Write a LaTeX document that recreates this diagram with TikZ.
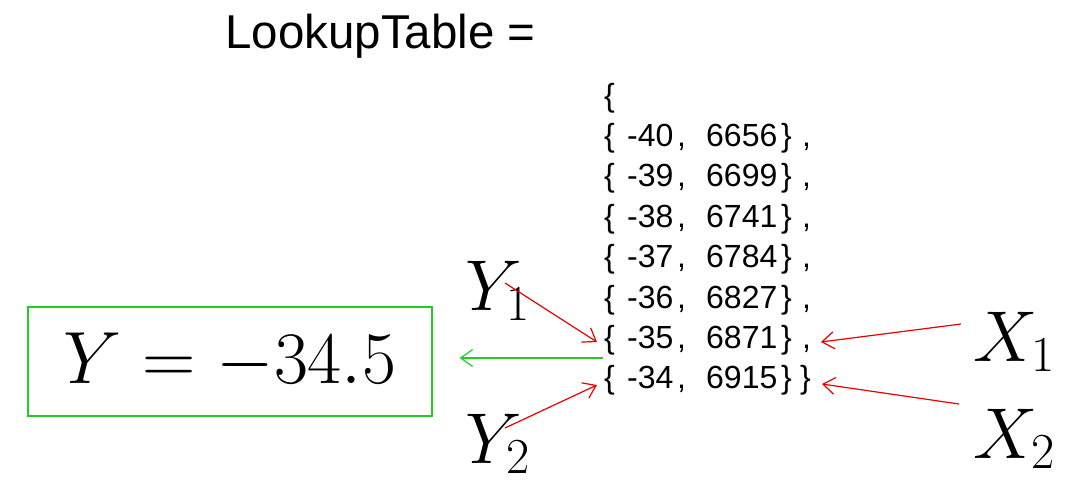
\RequirePackage{fix-cm}
\documentclass[tikz,border=0pt]{standalone}
\usepackage[no-math]{fontspec}
\newfontfamily\arial{Liberation Sans}
\usetikzlibrary{arrows.meta}
\definecolor{myred}{RGB}{230,0,0}
\definecolor{mygreen}{RGB}{34,204,34}
\tikzset{
  tbl/.style={font=\arial\fontsize{32}{32}\selectfont, inner sep=0pt, anchor=base west},
  titletext/.style={font=\arial\fontsize{47.5}{48}\selectfont, inner sep=0pt, anchor=base west},
  mathlbl/.style={font=\fontsize{72}{76}\selectfont, inner sep=0pt, anchor=base west},
  resultbox/.style={draw=mygreen, line width=1.3pt, minimum width=404pt, minimum height=109pt, inner sep=0pt, font=\fontsize{74}{78}\selectfont},
  redarrow/.style={draw=myred, line width=1.2pt, -{Straight Barb[length=12pt,width=17pt,line width=1.2pt]}},
  greenarrow/.style={draw=mygreen, line width=1.2pt, -{Straight Barb[length=12pt,width=17pt,line width=1.2pt]}}
}
\newcommand\tabrow[5]{%
  \node[tbl] (#1b) at (604,#2) {\{};
  \node[tbl] (#1a) at (627,#2) {#3};
  \node[tbl] (#1c) at (677,#2) {,};
  \node[tbl] (#1d) at (706,#2) {#4};
  \node[tbl] (#1e) at (781,#2) {\}};
  \node[tbl] (#1f) at (#5,#2) {\ifnum#5>801 ,\else\}\fi};
}
\begin{document}
\begin{tikzpicture}[x=1pt,y=-1pt]
\useasboundingbox (0,0) rectangle (1066,483);
\node[titletext] (title) at (225,48) {LookupTable =};
\node[tbl] (open) at (604,106) {\{};
\tabrow{r1}{146}{-40}{6656}{802}
\tabrow{r2}{186.5}{-39}{6699}{802}
\tabrow{r3}{227}{-38}{6741}{802}
\tabrow{r4}{267}{-37}{6784}{802}
\tabrow{r5}{308}{-36}{6827}{802}
\tabrow{r6}{348}{-35}{6871}{802}
\tabrow{r7}{388}{-34}{6915}{800}
\node[resultbox] (box) at (230,361.5) {$Y=-34.5$};
\node[mathlbl] (y1) at (465,310) {$Y_1$};
\node[mathlbl] (y2) at (465,463) {$Y_2$};
\node[mathlbl] (x1) at (973,361) {$X_1$};
\node[mathlbl] (x2) at (973,458) {$X_2$};
\coordinate (y1s) at (505,283);
\coordinate (y1t) at (597,342);
\coordinate (y2s) at (505,428);
\coordinate (y2t) at (597,385);
\coordinate (x1s) at (961,324);
\coordinate (x1t) at (821,342);
\coordinate (x2s) at (959,404);
\coordinate (x2t) at (822,384);
\coordinate (gs) at (603,358);
\draw[redarrow] (y1s) -- (y1t);
\draw[redarrow] (y2s) -- (y2t);
\draw[redarrow] (x1s) -- (x1t);
\draw[redarrow] (x2s) -- (x2t);
\draw[greenarrow, shorten >=27pt] (gs) -- (box.east |- gs);
\end{tikzpicture}
\end{document}
